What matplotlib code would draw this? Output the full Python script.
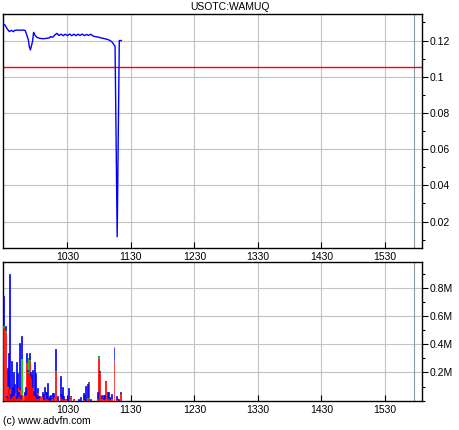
import matplotlib
matplotlib.use("Agg")
import matplotlib.pyplot as plt
from matplotlib.ticker import FixedLocator, MultipleLocator

# ---- data (times in minutes since midnight) ----
price_t = [569, 571, 573, 575, 577, 579, 580, 582, 585, 588, 590, 591, 593, 594, 595,
           597, 598, 599, 601, 604, 607, 610, 613, 614, 616, 618, 620, 622, 624,
           626, 628, 630, 632, 634, 636, 638, 640, 642, 644, 646, 648, 650, 652,
           654, 656, 658, 660, 662, 664, 666, 668, 670, 672, 673, 675, 677, 679, 681]
price_v = [0.1295, 0.1285, 0.1265, 0.1250, 0.1256, 0.1249, 0.1256, 0.1258, 0.1257, 0.1258,
           0.1256, 0.1240, 0.1205, 0.1165, 0.1148, 0.1195, 0.1245, 0.1232, 0.1218, 0.1212,
           0.1210, 0.1212, 0.1215, 0.1222, 0.1218, 0.1230, 0.1240, 0.1228, 0.1235,
           0.1227, 0.1235, 0.1227, 0.1236, 0.1227, 0.1235, 0.1227, 0.1235, 0.1228, 0.1236,
           0.1227, 0.1234, 0.1228, 0.1235, 0.1226, 0.1222, 0.1220, 0.1218, 0.1214, 0.1212,
           0.1209, 0.1206, 0.1201, 0.1193, 0.1185, 0.1168, 0.0116, 0.1200, 0.1200]
ref_level = 0.1055
marker_time = 958

vol_t = [570, 571, 572, 573, 574, 575, 576, 577, 578, 579, 580, 581, 582, 583, 584, 585,
         586, 587, 588, 589, 590, 591, 592, 593, 594, 595, 596, 597, 598, 599, 600, 601,
         602, 603, 604, 605, 606, 607, 608, 609, 610, 611, 612, 613, 614, 616, 617, 619,
         621, 623, 624, 625, 626, 628, 630, 631, 633, 636, 640, 642, 645, 646, 647, 649,
         650, 652, 658, 659, 660, 662, 664, 665, 666, 668, 669, 670, 672, 674, 676, 677,
         678, 680]
vol_red = [523, 490, 25, 100, 110, 89, 20, 30, 85, 40, 60, 30, 20, 100, 30, 80,
           20, 40, 30, 40, 50, 275, 200, 200, 290, 180, 160, 100, 40, 50, 30, 20,
           60, 20, 30, 15, 30, 10, 60, 50, 20, 20, 10, 0, 10, 20, 30, 209,
           0, 30, 20, 20, 15, 10, 0, 20, 30, 10, 0, 0, 10, 40, 0, 20,
           133, 0, 20, 303, 197, 20, 10, 20, 138, 20, 20, 10, 20, 280, 10, 15,
           0, 55]
vol_green = [15, 10, 0, 5, 0, 0, 0, 0, 0, 0, 0, 0, 0, 0, 0, 0,
             0, 260, 0, 0, 0, 0, 10, 100, 5, 0, 0, 0, 0, 0, 0, 0,
             0, 0, 0, 0, 0, 0, 0, 0, 0, 0, 0, 0, 0, 0, 0, 5,
             0, 0, 0, 0, 0, 0, 0, 0, 0, 0, 0, 0, 0, 0, 0, 5,
             0, 0, 0, 10, 3, 0, 0, 0, 0, 0, 5, 0, 0, 0, 0, 0,
             0, 0]
vol_blue = [203, 30, 10, 125, 227, 810, 30, 250, 10, 165, 60, 0, 255, 95, 30, 328,
            20, 160, 10, 20, 50, 64, 10, 0, 40, 20, 20, 116, 30, 225, 165, 20,
            29, 10, 0, 15, 32, 40, 38, 10, 40, 102, 10, 30, 30, 35, 25, 150,
            35, 144, 30, 78, 20, 0, 20, 67, 0, 0, 15, 25, 43, 0, 103, 92,
            0, 10, 40, 7, 7, 20, 30, 20, 0, 42, 35, 15, 30, 100, 20, 0,
            10, 8]

x_ticks = [630, 690, 750, 810, 870, 930]
x_labels = ["1030", "1130", "1230", "1330", "1430", "1530"]
price_ticks = [0.02, 0.04, 0.06, 0.08, 0.1, 0.12]
price_labels = ["0.02", "0.04", "0.06", "0.08", "0.1", "0.12"]
vol_ticks = [200, 400, 600, 800]
vol_labels = ["0.2M", "0.4M", "0.6M", "0.8M"]
title = "USOTC:WAMUQ"
credit = "(c) www.advfn.com"

plt.rcParams['font.family'] = ['Liberation Sans', 'DejaVu Sans']

fig = plt.figure(figsize=(4.6, 4.3), dpi=100)
fig.patch.set_facecolor('white')

W, H = 460.0, 430.0
def axrect(l, t, r, b):
    return [l / W, 1 - b / H, (r - l) / W, (b - t) / H]

ax1 = fig.add_axes(axrect(2.7, 14.3, 422.3, 248.0))
ax2 = fig.add_axes(axrect(2.7, 262.3, 422.3, 400.7))

grid_col = '#c0c4c8'
for ax in (ax1, ax2):
    ax.set_xlim(568.8, 965.4)
    ax.xaxis.set_major_locator(FixedLocator(x_ticks))
    ax.set_xticklabels(x_labels)
    ax.yaxis.tick_right()
    ax.grid(True, which='major', color=grid_col, linewidth=0.8, linestyle='-')
    ax.set_axisbelow(True)
    ax.axvline(marker_time, color='#8a9aa2', linewidth=0.8, zorder=1)
    for s in ax.spines.values():
        s.set_color('black')
        s.set_linewidth(1.0)
    ax.tick_params(axis='x', direction='in', length=4, width=0.8, labelsize=7.5,
                   pad=3, top=False, bottom=True)
    ax.tick_params(axis='y', which='major', direction='out', length=4, width=0.8,
                   labelsize=7.5, pad=1.5, left=False, right=True)
    ax.tick_params(axis='y', which='minor', direction='out', length=2, width=0.8,
                   left=False, right=True)

# price panel
ax1.plot(price_t, price_v, color='#0000ff', linewidth=1.0, zorder=3)
ax1.axhline(ref_level, color='#ff0000', linewidth=1.0, zorder=2)
ax1.set_ylim(0.0054, 0.1345)
ax1.yaxis.set_major_locator(FixedLocator(price_ticks))
ax1.set_yticklabels(price_labels)
ax1.yaxis.set_minor_locator(MultipleLocator(0.01))

# volume panel
bottom_g = [r for r in vol_red]
bottom_b = [r + g for r, g in zip(vol_red, vol_green)]
ax2.bar(vol_t, vol_red, width=0.9, color='#ff0000', edgecolor='#ff0000', linewidth=0.5, zorder=3)
ax2.bar(vol_t, vol_green, width=0.9, bottom=bottom_g, color='#00c000', edgecolor='#00c000',
        linewidth=0.5, zorder=3)
ax2.bar(vol_t, vol_blue, width=0.9, bottom=bottom_b, color='#0000ff', edgecolor='#0000ff',
        linewidth=0.5, zorder=3)
ax2.set_ylim(0, 980)
ax2.yaxis.set_major_locator(FixedLocator(vol_ticks))
ax2.set_yticklabels(vol_labels)
ax2.yaxis.set_minor_locator(MultipleLocator(100))

fig.text(230 / W, 1 - 7.5 / H, title, ha='center', va='center', fontsize=7.5)
fig.text(3 / W, 1 - 421 / H, credit, ha='left', va='center', fontsize=7.5)

fig.savefig('out.png', dpi=100, facecolor='white')
